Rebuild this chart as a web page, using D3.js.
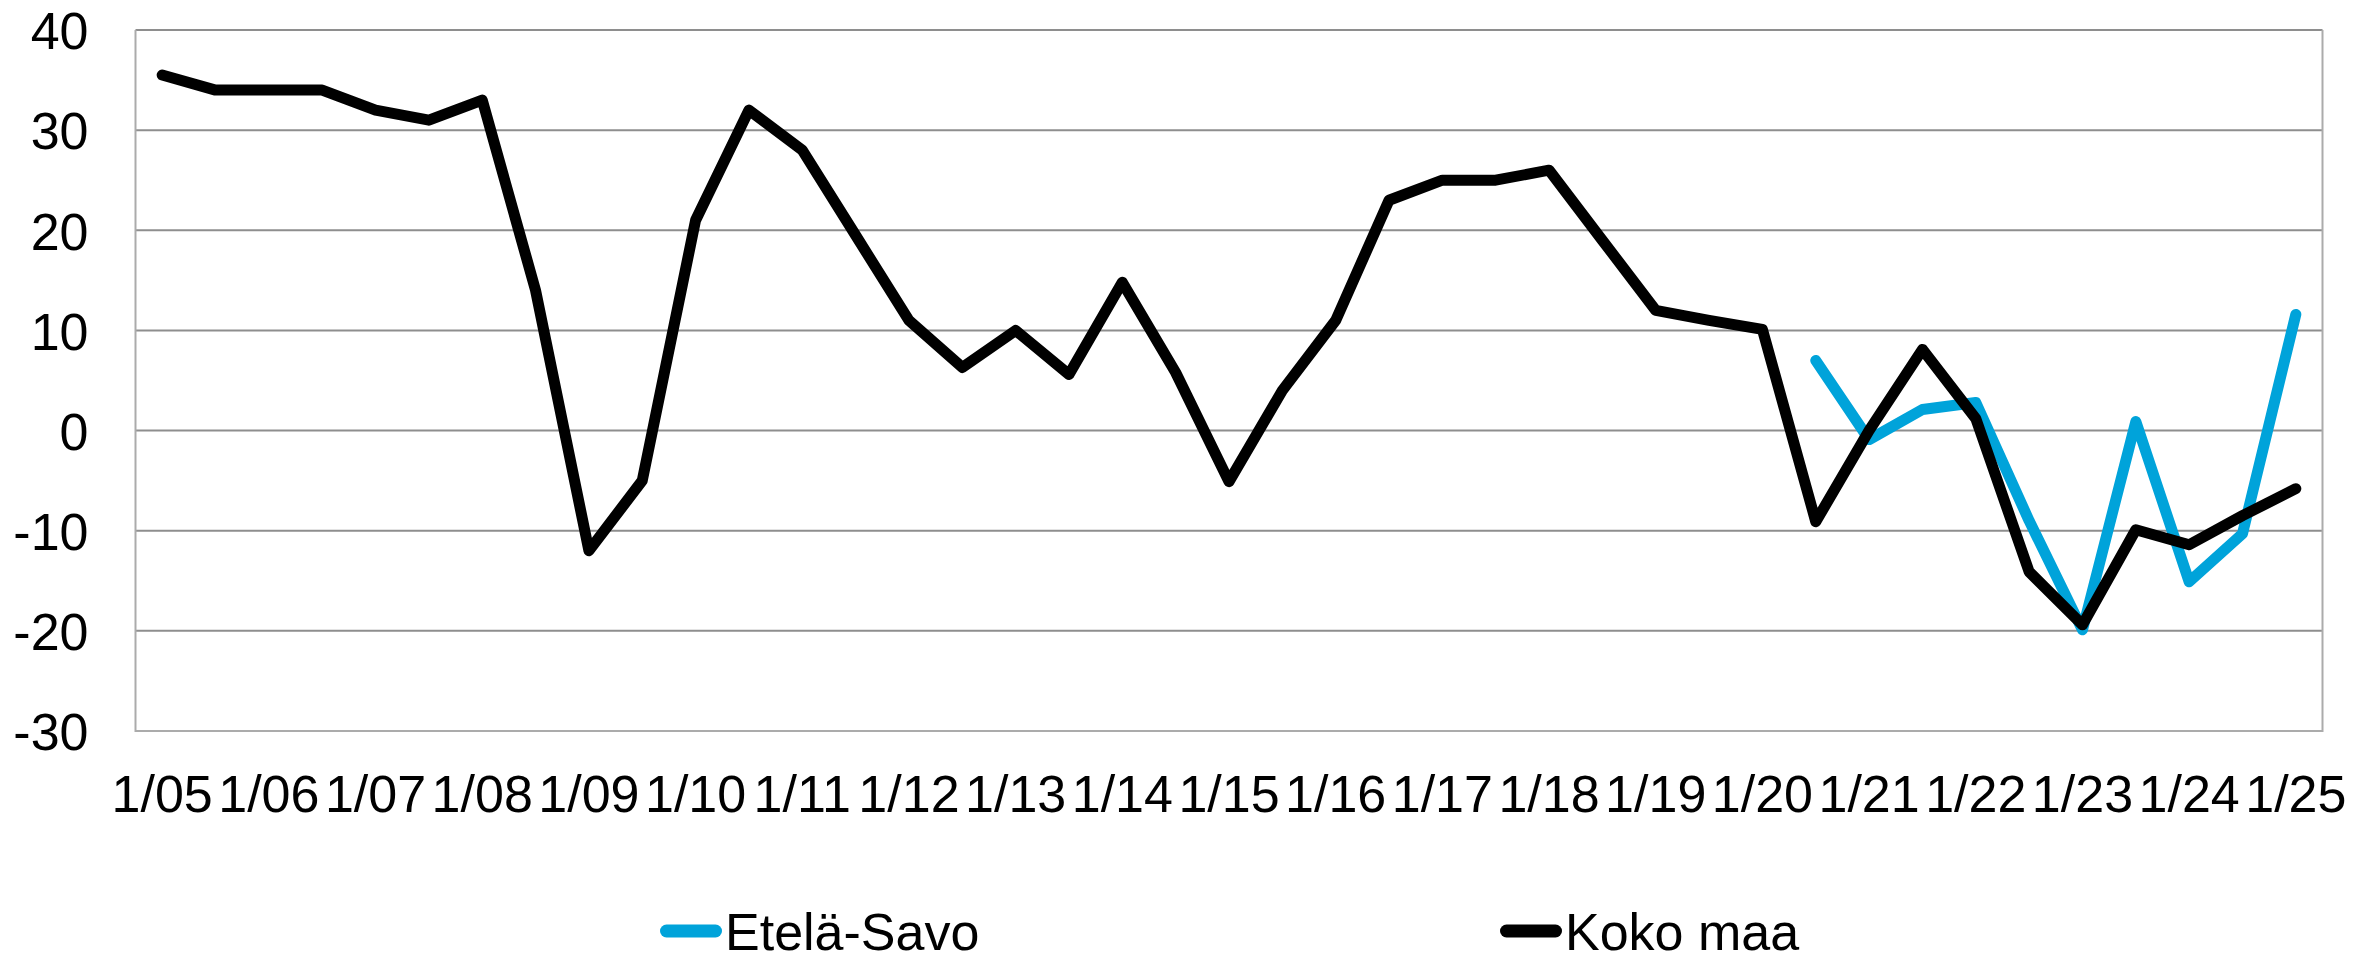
<!DOCTYPE html>
<html>
<head>
<meta charset="utf-8">
<script src="https://cdn.jsdelivr.net/npm/d3@7"></script>
<style>
  html, body { margin: 0; padding: 0; background: #ffffff; }
  svg { display: block; }
  text { font-family: "Liberation Sans", Arial, sans-serif; fill: #000; }
</style>
</head>
<body>
<svg id="chart" width="2379" height="954"></svg>
<script>
const categories = ["1/05","2/05","1/06","2/06","1/07","2/07","1/08","2/08","1/09","2/09",
  "1/10","2/10","1/11","2/11","1/12","2/12","1/13","2/13","1/14","2/14",
  "1/15","2/15","1/16","2/16","1/17","2/17","1/18","2/18","1/19","2/19",
  "1/20","2/20","1/21","2/21","1/22","2/22","1/23","2/23","1/24","2/24","1/25"];

const kokoMaa = [35.5, 34, 34, 34, 32, 31, 33, 14, -12, -5,
  21, 32, 28, 19.5, 11, 6.3, 10, 5.6, 14.8, 5.8,
  -5.1, 4, 11, 23, 25, 25, 26, 19, 12, 11,
  10.1, -9.1, 0, 8.1, 1.2, -14.1, -19.4, -9.9, -11.4, -8.5, -5.8];

const etelaSavo = [null, null, null, null, null, null, null, null, null, null,
  null, null, null, null, null, null, null, null, null, null,
  null, null, null, null, null, null, null, null, null, null,
  null, 7, -0.9, 2.1, 2.8, -9, -19.9, 0.9, -15.1, -10.3, 11.6];

const yTicks = [-30, -20, -10, 0, 10, 20, 30, 40];
const seriesNames = ["Etelä-Savo", "Koko maa"];
const seriesColors = ["#00a3da", "#000000"];

const svg = d3.select("#chart");
const plot = { left: 135.5, right: 2322.5, top: 30, bottom: 731 };

const x = d3.scaleBand().domain(categories).range([plot.left, plot.right]).paddingInner(0).paddingOuter(0);
const y = d3.scaleLinear().domain([-30, 40]).range([plot.bottom, plot.top]);
const cx = c => x(c) + x.bandwidth() / 2;

// gridlines
svg.append("g").selectAll("line").data(yTicks.filter(v => v > -30)).join("line")
  .attr("x1", plot.left).attr("x2", plot.right)
  .attr("y1", d => y(d)).attr("y2", d => y(d))
  .attr("stroke", "#8e8e8e").attr("stroke-width", 2);

// plot border (left, right, bottom)
svg.append("path")
  .attr("d", `M${plot.left},${y(40)}V${y(-30)}H${plot.right}V${y(40)}`)
  .attr("fill", "none").attr("stroke", "#ababab").attr("stroke-width", 2);

// Y axis
const yAxis = svg.append("g").attr("transform", `translate(${plot.left},0)`)
  .call(d3.axisLeft(y).tickValues(yTicks).tickSize(0).tickPadding(47).tickFormat(d => String(d)));
yAxis.select(".domain").remove();
yAxis.selectAll("text").style("font-size", "52px").attr("dy", "0.36em")
  .style("font-family", "'Liberation Sans', Arial, sans-serif");

// X axis
const xAxis = svg.append("g").attr("transform", `translate(0,${plot.bottom})`)
  .call(d3.axisBottom(x).tickValues(categories.filter(c => c.startsWith("1/"))).tickSize(0).tickPadding(0));
xAxis.select(".domain").remove();
xAxis.selectAll("text").style("font-size", "52px").attr("y", 62).attr("dy", "0.36em")
  .style("font-family", "'Liberation Sans', Arial, sans-serif");

// lines
const line = d3.line()
  .defined(d => d.v !== null)
  .x(d => cx(d.c)).y(d => y(d.v));

const seriesData = [etelaSavo, kokoMaa];
seriesData.forEach((vals, si) => {
  svg.append("path")
    .datum(categories.map((c, i) => ({ c, v: vals[i] })))
    .attr("d", line)
    .attr("fill", "none")
    .attr("stroke", seriesColors[si])
    .attr("stroke-width", 11)
    .attr("stroke-linejoin", "round")
    .attr("stroke-linecap", "round");
});

// legend
const legendX = [660, 1500];
const legendY = 931;
seriesNames.forEach((name, i) => {
  const g = svg.append("g").attr("transform", `translate(${legendX[i]},${legendY})`);
  g.append("line").attr("x1", 6.5).attr("x2", 55.5).attr("y1", 0).attr("y2", 0)
    .attr("stroke", seriesColors[i]).attr("stroke-width", 13).attr("stroke-linecap", "round");
  g.append("text").attr("x", 65).attr("y", 0).attr("dy", "0.36em")
    .style("font-size", "52px").text(name);
});
</script>
</body>
</html>
